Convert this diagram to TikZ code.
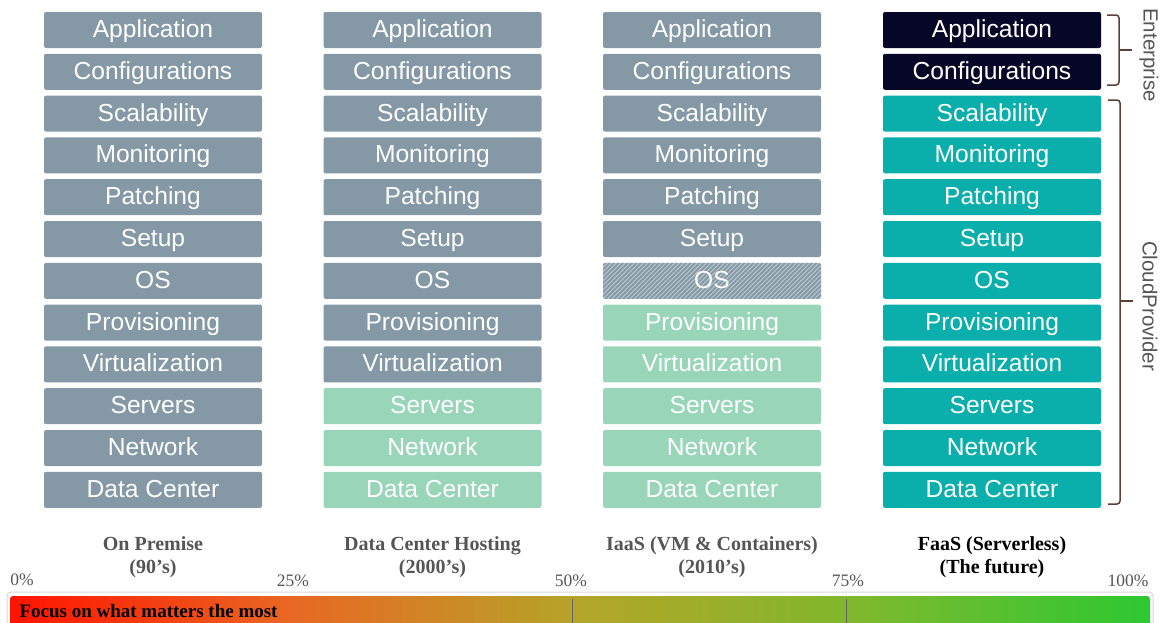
\documentclass[tikz,border=0pt]{standalone}
\usepackage{fontspec}
\setmainfont{Liberation Serif}
\newfontfamily\arialf{Liberation Sans}
\definecolor{stackgray}{RGB}{132,153,165}
\definecolor{hatchline}{RGB}{182,197,205}
\definecolor{lightgreen}{RGB}{152,213,185}
\definecolor{teal}{RGB}{10,174,170}
\definecolor{navy}{RGB}{6,6,38}
\definecolor{bracebrown}{RGB}{92,64,55}
\definecolor{labelgray}{RGB}{85,85,85}
\definecolor{barborder}{RGB}{215,215,215}
\definecolor{tickline}{RGB}{100,100,100}
\definecolor{gA}{RGB}{255,20,0}
\definecolor{gB}{RGB}{232,105,35}
\definecolor{gC}{RGB}{180,165,40}
\definecolor{gD}{RGB}{125,185,45}
\definecolor{gE}{RGB}{45,200,50}
\pgfdeclarehorizontalshading{focusshade}{100bp}{color(0bp)=(gA); color(25bp)=(gA); color(37.5bp)=(gB); color(50bp)=(gC); color(62.5bp)=(gD); color(75bp)=(gE); color(100bp)=(gE)}
\begin{document}
\begin{tikzpicture}[x=1pt,y=-1pt,
  stackbox/.style={rectangle, rounded corners=2pt, minimum width=218pt, minimum height=36pt, inner sep=0pt, text height=15pt, text depth=0pt, text=white, font=\arialf\fontsize{24.6}{28}\selectfont},
  hatched/.style={fill=stackgray, path picture={\foreach \k in {-45,-40.5,...,225} \draw[hatchline, line width=1pt] ([xshift=\k pt]path picture bounding box.south west) -- ++(45,-45);}},
  bracestyle/.style={draw=bracebrown, line width=1.5pt, rounded corners=3pt},
  sidelabel/.style={text=labelgray, font=\arialf\fontsize{20.5}{24}\selectfont, rotate=-90},
  collabel/.style={align=center, text=labelgray, font=\bfseries\fontsize{20}{23}\selectfont},
  pct/.style={text=labelgray, font=\fontsize{17.5}{20}\selectfont}
]
\useasboundingbox (0,0) rectangle (1166,622);

\foreach \t [count=\i] in {Application,Configurations,Scalability,Monitoring,Patching,Setup,OS,Provisioning,Virtualization,Servers,Network,Data Center} {
  \pgfmathsetmacro\yy{30+(\i-1)*41.8}
  \node[stackbox, fill=stackgray] (c1r\i) at (153,\yy) {\t};
  \ifnum\i<10
    \node[stackbox, fill=stackgray] (c2r\i) at (432.5,\yy) {\t};
  \else
    \node[stackbox, fill=lightgreen] (c2r\i) at (432.5,\yy) {\t};
  \fi
  \ifnum\i<7
    \node[stackbox, fill=stackgray] (c3r\i) at (712,\yy) {\t};
  \else\ifnum\i=7
    \node[stackbox, hatched] (c3r\i) at (712,\yy) {\t};
  \else
    \node[stackbox, fill=lightgreen] (c3r\i) at (712,\yy) {\t};
  \fi\fi
  \ifnum\i<3
    \node[stackbox, fill=navy] (c4r\i) at (992,\yy) {\t};
  \else
    \node[stackbox, fill=teal] (c4r\i) at (992,\yy) {\t};
  \fi
}

% braces
\coordinate (eT) at (1107,15);
\coordinate (eB) at (1107,85);
\coordinate (eM) at (1119,50);
\coordinate (eTip) at (1132,50);
\draw[bracestyle] (eT) -| (eM) |- (eB);
\draw[bracestyle] (eM) -- (eTip);
\coordinate (cT) at (1108,100);
\coordinate (cB) at (1108,504);
\coordinate (cM) at (1120,301);
\coordinate (cTip) at (1133,301);
\draw[bracestyle] (cT) -| (cM) |- (cB);
\draw[bracestyle] (cM) -- (cTip);
\node[sidelabel] (ent) at (1149,55) {Enterprise};
\node[sidelabel] (cloud) at (1150,306) {CloudProvider};

% column labels
\node[collabel] (l1) at (153,557) {On Premise\\(90’s)};
\node[collabel] (l2) at (432.5,557) {Data Center Hosting\\(2000’s)};
\node[collabel] (l3) at (712,557) {IaaS (VM \& Containers)\\(2010’s)};
\node[collabel, text=black] (l4) at (992,557) {FaaS (Serverless)\\(The future)};

% percentages
\node[pct] (p0) at (22,580) {0\%};
\node[pct] (p25) at (293,581) {25\%};
\node[pct] (p50) at (571,581) {50\%};
\node[pct] (p75) at (848,581) {75\%};
\node[pct] (p100) at (1128,581) {100\%};

% bar
\draw[barborder, line width=1pt, rounded corners=4pt] (7,592) rectangle (1153,630);
\shade[shading=focusshade, rounded corners=3pt] (10,596) rectangle (1150,627);
\coordinate (t50a) at (572,599);
\coordinate (t50b) at (572,624);
\coordinate (t75a) at (846,599);
\coordinate (t75b) at (846,624);
\draw[tickline, line width=0.7pt] (t50a) -- (t50b);
\draw[tickline, line width=0.7pt] (t75a) -- (t75b);
\node[anchor=west, font=\bfseries\fontsize{19}{22}\selectfont] (focus) at (16,611) {Focus on what matters the most};
\end{tikzpicture}
\end{document}
